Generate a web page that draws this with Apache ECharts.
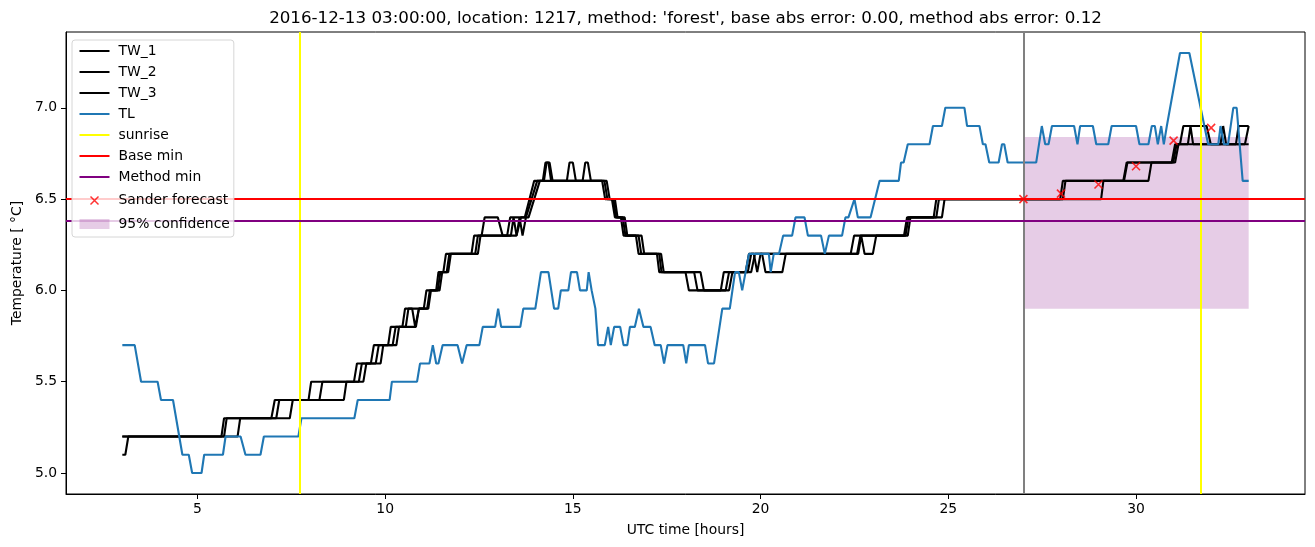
<!DOCTYPE html>
<html>
<head>
<meta charset="utf-8">
<script src="https://cdn.jsdelivr.net/npm/echarts@6/dist/echarts.min.js"></script>
<style>html,body{margin:0;padding:0;background:#fff}#c{width:1315px;height:547px}</style>
</head>
<body>
<div id="c"></div>
<script>
// ---- data (time in UTC hours, temperature in °C) ----
const TW_1 = [[3.0,5.2],[5.64,5.2],[5.71,5.3],[6.97,5.3],[7.06,5.4],[7.96,5.4],[8.03,5.5],[9.17,5.5],[9.25,5.6],[9.62,5.6],[9.7,5.7],[10.08,5.7],[10.15,5.8],[10.46,5.8],[10.53,5.9],[11.03,5.9],[11.1,6.0],[11.36,6.0],[11.42,6.1],[11.55,6.1],[11.62,6.2],[12.3,6.2],[12.37,6.3],[12.57,6.3],[12.65,6.4],[13.0,6.4],[13.13,6.3],[13.25,6.3],[13.33,6.4],[13.72,6.4],[13.97,6.6],[14.2,6.6],[14.27,6.7],[14.35,6.7],[14.42,6.6],[15.26,6.6],[15.33,6.7],[15.4,6.7],[15.48,6.6],[15.78,6.6],[15.86,6.5],[16.04,6.5],[16.12,6.4],[16.28,6.4],[16.35,6.3],[16.68,6.3],[16.75,6.2],[17.24,6.2],[17.3,6.1],[18.0,6.1],[18.09,6.0],[18.94,6.0],[19.02,6.1],[19.6,6.1],[19.69,6.2],[22.4,6.2],[22.49,6.3],[23.82,6.3],[23.9,6.4],[24.61,6.4],[24.68,6.5],[27.98,6.5],[28.05,6.6],[29.66,6.6],[29.75,6.7],[30.95,6.7],[31.04,6.8],[31.17,6.8],[31.26,6.9],[31.88,6.9],[31.99,6.8],[32.66,6.8],[32.73,6.9],[33.0,6.9]];
const TW_2 = [[3.0,5.2],[5.71,5.2],[5.78,5.3],[7.1,5.3],[7.18,5.4],[8.25,5.4],[8.33,5.5],[9.3,5.5],[9.38,5.6],[9.75,5.6],[9.83,5.7],[10.2,5.7],[10.28,5.8],[10.55,5.8],[10.62,5.9],[10.72,5.9],[10.8,5.8],[10.83,5.8],[10.9,5.9],[11.12,5.9],[11.19,6.0],[11.4,6.0],[11.47,6.1],[11.64,6.1],[11.71,6.2],[12.4,6.2],[12.47,6.3],[13.35,6.3],[13.42,6.4],[13.5,6.3],[13.55,6.3],[13.62,6.4],[13.75,6.4],[14.05,6.6],[14.23,6.6],[14.3,6.7],[14.38,6.7],[14.46,6.6],[14.84,6.6],[14.91,6.7],[15.0,6.7],[15.08,6.6],[15.84,6.6],[15.92,6.5],[16.08,6.5],[16.15,6.4],[16.33,6.4],[16.4,6.3],[16.75,6.3],[16.82,6.2],[17.3,6.2],[17.36,6.1],[18.23,6.1],[18.32,6.0],[19.07,6.0],[19.16,6.1],[19.66,6.1],[19.75,6.2],[19.82,6.2],[19.91,6.1],[20.0,6.2],[22.57,6.2],[22.66,6.3],[23.86,6.3],[23.94,6.4],[24.68,6.4],[24.75,6.5],[28.05,6.5],[28.12,6.6],[29.68,6.6],[29.77,6.7],[30.99,6.7],[31.08,6.8],[31.38,6.8],[31.45,6.9],[31.52,6.8],[32.9,6.8],[33.0,6.9]];
const TW_3 = [[3.0,5.1],[3.08,5.1],[3.16,5.2],[6.07,5.2],[6.14,5.3],[7.46,5.3],[7.54,5.4],[8.9,5.4],[8.97,5.5],[9.42,5.5],[9.5,5.6],[9.88,5.6],[9.95,5.7],[10.3,5.7],[10.37,5.8],[10.82,5.8],[10.9,5.9],[11.15,5.9],[11.22,6.0],[11.45,6.0],[11.52,6.1],[11.68,6.1],[11.75,6.2],[12.47,6.2],[12.54,6.3],[13.5,6.3],[13.58,6.4],[13.66,6.3],[13.68,6.3],[13.75,6.4],[13.82,6.4],[14.12,6.6],[15.9,6.6],[15.98,6.5],[16.12,6.5],[16.19,6.4],[16.38,6.4],[16.45,6.3],[16.83,6.3],[16.9,6.2],[17.35,6.2],[17.42,6.1],[18.4,6.1],[18.49,6.0],[19.16,6.0],[19.25,6.1],[19.75,6.1],[19.85,6.2],[20.04,6.2],[20.13,6.1],[20.58,6.1],[20.67,6.2],[22.6,6.2],[22.68,6.3],[22.7,6.3],[22.77,6.2],[22.99,6.2],[23.08,6.3],[23.92,6.3],[23.99,6.4],[24.83,6.4],[24.9,6.5],[29.07,6.5],[29.13,6.6],[30.33,6.6],[30.41,6.7],[31.04,6.7],[31.13,6.8],[32.25,6.8],[32.32,6.9],[32.4,6.8],[33.0,6.8]];
const TL = [[3.0,5.7],[3.33,5.7],[3.5,5.5],[3.94,5.5],[4.03,5.4],[4.35,5.4],[4.6,5.1],[4.77,5.1],[4.86,5.0],[5.11,5.0],[5.18,5.1],[5.68,5.1],[5.75,5.2],[6.15,5.2],[6.28,5.1],[6.68,5.1],[6.77,5.2],[7.69,5.2],[7.77,5.3],[9.18,5.3],[9.27,5.4],[10.12,5.4],[10.18,5.5],[10.85,5.5],[10.93,5.6],[11.18,5.6],[11.27,5.7],[11.36,5.6],[11.42,5.6],[11.53,5.7],[11.93,5.7],[12.05,5.6],[12.17,5.7],[12.51,5.7],[12.6,5.8],[12.93,5.8],[13.01,5.9],[13.09,5.8],[13.6,5.8],[13.68,5.9],[14.0,5.9],[14.15,6.1],[14.35,6.1],[14.5,5.9],[14.61,5.9],[14.68,6.0],[14.88,6.0],[14.95,6.1],[15.11,6.1],[15.19,6.0],[15.37,6.0],[15.42,6.1],[15.5,6.0],[15.6,5.9],[15.67,5.7],[15.85,5.7],[15.94,5.8],[16.01,5.7],[16.1,5.8],[16.26,5.8],[16.35,5.7],[16.45,5.7],[16.52,5.8],[16.65,5.8],[16.76,5.9],[16.88,5.8],[17.07,5.8],[17.18,5.7],[17.34,5.7],[17.43,5.6],[17.52,5.7],[17.94,5.7],[18.02,5.6],[18.09,5.7],[18.52,5.7],[18.6,5.6],[18.76,5.6],[18.98,5.9],[19.18,5.9],[19.32,6.1],[19.42,6.1],[19.51,6.0],[19.69,6.2],[20.22,6.2],[20.27,6.1],[20.35,6.2],[20.49,6.2],[20.6,6.3],[20.84,6.3],[20.93,6.4],[21.17,6.4],[21.26,6.3],[21.61,6.3],[21.71,6.2],[21.82,6.3],[22.17,6.3],[22.26,6.4],[22.34,6.4],[22.5,6.5],[22.59,6.4],[22.93,6.4],[23.17,6.6],[23.68,6.6],[23.74,6.7],[23.81,6.7],[23.92,6.8],[24.5,6.8],[24.59,6.9],[24.83,6.9],[24.92,7.0],[25.43,7.0],[25.5,6.9],[25.83,6.9],[25.92,6.8],[25.99,6.8],[26.09,6.7],[26.34,6.7],[26.43,6.8],[26.49,6.8],[26.58,6.7],[27.34,6.7],[27.49,6.9],[27.58,6.8],[27.67,6.8],[27.76,6.9],[28.35,6.9],[28.44,6.8],[28.51,6.9],[28.85,6.9],[28.94,6.8],[29.26,6.8],[29.35,6.9],[30.0,6.9],[30.09,6.8],[30.33,6.8],[30.42,6.9],[30.5,6.9],[30.58,6.8],[30.67,6.9],[30.74,6.8],[30.82,6.9],[31.17,7.3],[31.42,7.3],[31.92,6.8],[32.19,6.8],[32.25,6.9],[32.34,6.8],[32.45,6.8],[32.59,7.0],[32.68,7.0],[32.84,6.6],[33.0,6.6]];
const forecastT = [27, 28, 29, 30, 31, 32];
const forecastV = [6.50, 6.53, 6.58, 6.68, 6.82, 6.89];
const confT = [27, 33];
const confV = [5.90, 6.84];
const baseMin = 6.50;
const methodMin = 6.38;
const sunriseT = [7.72, 31.72];
const nowT = 27;
const xTicks = [5, 10, 15, 20, 25, 30];
const yTicks = [5.0, 5.5, 6.0, 6.5, 7.0];
const titleText = "2016-12-13 03:00:00, location: 1217, method: 'forest', base abs error: 0.00, method abs error: 0.12";

// ---- chart ----
const FONT = 'DejaVu Sans';
const lineIcon = 'path://M0,0L30,0L30,2L0,2Z';
const patchIcon = 'path://M0,0L30,0L30,10L0,10Z';
const xIcon = 'path://M-11,-3M0,0L8,8M8,0L0,8M19,11';
const xSymbol = 'path://M0,0L10,10M10,0L0,10';

function lineSeries(name, data, color, z) {
  return { name, type: 'line', data, showSymbol: false, symbol: 'none', z,
    lineStyle: { color, width: 2.1 }, itemStyle: { color }, emphasis: { disabled: true }, animation: false };
}
function markSeries(name, color, mdata, z) {
  return { name, type: 'line', data: [], z, itemStyle: { color }, lineStyle: { color },
    markLine: { silent: true, symbol: 'none', label: { show: false }, animation: false,
      lineStyle: { color, width: 2, type: 'solid' }, emphasis: { disabled: true }, data: mdata } };
}

const chart = echarts.init(document.getElementById('c'), null, { renderer: 'canvas', width: 1315, height: 547 });
chart.setOption({
  animation: false,
  backgroundColor: '#fff',
  textStyle: { fontFamily: FONT },
  title: { text: titleText, left: 685.5, top: 10, padding: 0, textAlign: 'center',
    textStyle: { fontFamily: FONT, fontSize: 16.7, fontWeight: 'normal', color: '#000' } },
  grid: { left: 66, right: 10, top: 32, bottom: 53, show: true, borderColor: '#000', borderWidth: 1, backgroundColor: 'transparent' },
  xAxis: { type: 'value', min: 1.5, max: 34.5,
    name: 'UTC time [hours]', nameLocation: 'middle', nameGap: 29,
    nameTextStyle: { fontFamily: FONT, fontSize: 13.9, color: '#000' },
    axisLine: { show: true, lineStyle: { color: '#000', width: 1 } },
    axisTick: { show: true, length: 5, lineStyle: { color: '#000', width: 1 }, customValues: xTicks },
    axisLabel: { show: true, margin: 8, fontFamily: FONT, fontSize: 13.9, color: '#000', customValues: xTicks, formatter: v => String(v) },
    splitLine: { show: false } },
  yAxis: { type: 'value', min: 4.885, max: 7.415,
    name: 'Temperature [ °C]', nameLocation: 'middle', nameGap: 42, nameRotate: 90,
    nameTextStyle: { fontFamily: FONT, fontSize: 13.9, color: '#000' },
    axisLine: { show: true, lineStyle: { color: '#000', width: 1 } },
    axisTick: { show: true, length: 5, lineStyle: { color: '#000', width: 1 }, customValues: yTicks },
    axisLabel: { show: true, margin: 9, fontFamily: FONT, fontSize: 13.9, color: '#000', customValues: yTicks, formatter: v => v.toFixed(1) },
    splitLine: { show: false } },
  legend: { orient: 'vertical', left: 72, top: 40, padding: [4, 4, 6, 5], z: 20,
    itemWidth: 30, itemHeight: 14, itemGap: 7, selectedMode: false,
    backgroundColor: 'rgba(255,255,255,0.8)', borderColor: '#d6d6d6', borderWidth: 1, borderRadius: 3,
    textStyle: { fontFamily: FONT, fontSize: 13.9, color: '#000', padding: [0, 0, 0, 4] },
    data: [
      { name: 'TW_1', icon: lineIcon, itemStyle: { color: '#000' } },
      { name: 'TW_2', icon: lineIcon, itemStyle: { color: '#000' } },
      { name: 'TW_3', icon: lineIcon, itemStyle: { color: '#000' } },
      { name: 'TL', icon: lineIcon, itemStyle: { color: '#1f77b4' } },
      { name: 'sunrise', icon: lineIcon, itemStyle: { color: '#ffff00' } },
      { name: 'Base min', icon: lineIcon, itemStyle: { color: '#ff0000' } },
      { name: 'Method min', icon: lineIcon, itemStyle: { color: '#800080' } },
      { name: 'Sander forecast', icon: xIcon, itemStyle: { color: 'none', borderColor: '#ff0000', borderWidth: 1.5 } },
      { name: '95% confidence', icon: patchIcon, itemStyle: { color: 'rgba(128,0,128,0.2)' } }
    ] },
  series: [
    { name: '95% confidence', type: 'line', data: [], z: 1, itemStyle: { color: 'rgba(128,0,128,0.2)' },
      markArea: { silent: true, animation: false, itemStyle: { color: 'rgba(128,0,128,0.2)' }, label: { show: false },
        data: [[{ xAxis: confT[0], yAxis: confV[0] }, { xAxis: confT[1], yAxis: confV[1] }]] } },
    lineSeries('TW_1', TW_1, '#000', 2),
    lineSeries('TW_2', TW_2, '#000', 2),
    lineSeries('TW_3', TW_3, '#000', 2),
    lineSeries('TL', TL, '#1f77b4', 2),
    markSeries('now', '#808080', [{ xAxis: nowT }], 3),
    markSeries('sunrise', '#ffff00', sunriseT.map(t => ({ xAxis: t })), 3),
    markSeries('Base min', '#ff0000', [{ yAxis: baseMin }], 3),
    markSeries('Method min', '#800080', [{ yAxis: methodMin }], 3),
    { name: 'Sander forecast', type: 'scatter', z: 5, symbol: xSymbol, symbolSize: 8,
      itemStyle: { color: 'none', borderColor: '#ff0000', borderWidth: 1.6 }, emphasis: { disabled: true },
      data: forecastT.map((t, i) => [t, forecastV[i]]) }
  ]
});
</script>
</body>
</html>
